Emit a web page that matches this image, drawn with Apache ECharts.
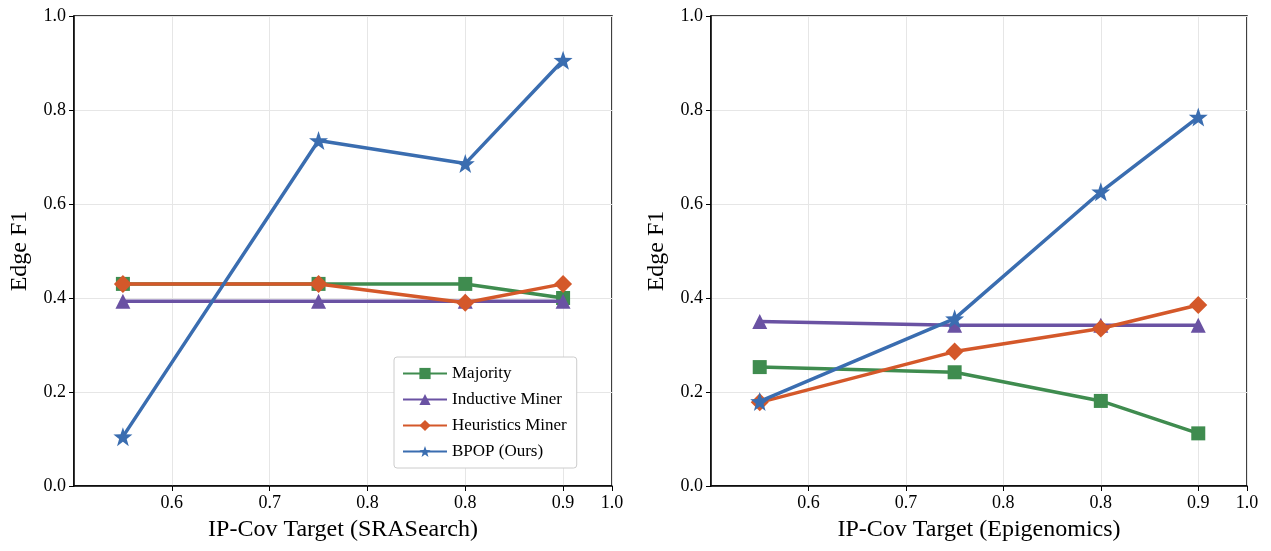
<!DOCTYPE html>
<html><head><meta charset="utf-8">
<script src="https://cdn.jsdelivr.net/npm/echarts@6/dist/echarts.min.js"></script>
<style>html,body{margin:0;background:#fff}#c{width:1271px;height:551px}</style>
</head><body><div id="c"></div>
<script>
var xs = [0.5, 0.7, 0.85, 0.95];
var names = ['Majority', 'Inductive Miner', 'Heuristics Miner', 'BPOP (Ours)'];
var colors = ['#3f8c4f', '#6a52a3', '#d4582a', '#3a6db0'];
var symbols = ['rect', 'triangle', 'diamond', 'path://M0,-10L2.35,-3.24L9.51,-3.09L3.8,1.24L5.88,8.09L0,4L-5.88,8.09L-3.8,1.24L-9.51,-3.09L-2.35,-3.24Z'];
var sizes = [14, 15, 18, 19];
// SRASearch
var left = [
  [0.43, 0.43, 0.43, 0.40],
  [0.393, 0.393, 0.393, 0.393],
  [0.43, 0.43, 0.39, 0.43],
  [0.105, 0.735, 0.686, 0.906]
];
// Epigenomics
var right = [
  [0.253, 0.242, 0.181, 0.112],
  [0.350, 0.342, 0.342, 0.342],
  [0.178, 0.286, 0.335, 0.385],
  [0.180, 0.356, 0.626, 0.785]
];
var font = 'Liberation Serif';
function axes(idx, title) {
  return {
    x: {type: 'value', gridIndex: idx, min: 0.45, max: 1.0, interval: 0.1,
      name: title, nameLocation: 'middle', nameGap: 32,
      nameTextStyle: {fontFamily: font, fontSize: 24, color: '#000'},
      axisLine: {show: true, onZero: false, lineStyle: {color: '#000', width: 1.5}},
      axisTick: {show: true, length: 5, lineStyle: {color: '#000'}},
      axisLabel: {fontFamily: font, fontSize: 18, color: '#000', formatter: function(v){ return v.toFixed(1); }, showMinLabel: false},
      splitLine: {show: true, lineStyle: {color: '#e6e6e6'}}},
    y: {type: 'value', gridIndex: idx, min: 0, max: 1, interval: 0.2,
      name: 'Edge F1', nameLocation: 'middle', nameGap: 42,
      nameTextStyle: {fontFamily: font, fontSize: 24, color: '#000'},
      axisLine: {show: true, lineStyle: {color: '#000', width: 1.5}},
      axisTick: {show: true, length: 5, lineStyle: {color: '#000'}},
      axisLabel: {fontFamily: font, fontSize: 18, color: '#000', formatter: function(v){ return v.toFixed(1); }},
      splitLine: {show: true, lineStyle: {color: '#e6e6e6'}}}
  };
}
var a0 = axes(0, 'IP-Cov Target (SRASearch)');
var a1 = axes(1, 'IP-Cov Target (Epigenomics)');
var series = [];
[left, right].forEach(function(set, g) {
  set.forEach(function(vals, i) {
    series.push({
      name: names[i], type: 'line', xAxisIndex: g, yAxisIndex: g,
      data: xs.map(function(x, k){ return [x, vals[k]]; }),
      symbol: symbols[i], symbolSize: sizes[i],
      lineStyle: {color: colors[i], width: 3.5},
      itemStyle: {color: colors[i]}, z: 2 + i
    });
  });
});
var chart = echarts.init(document.getElementById('c'));
chart.setOption({
  animation: false,
  grid: [
    {left: 74, top: 16, width: 538, height: 470, show: true, borderColor: '#000', borderWidth: 1.5},
    {left: 711, top: 16, width: 536, height: 470, show: true, borderColor: '#000', borderWidth: 1.5}
  ],
  xAxis: [a0.x, a1.x],
  yAxis: [a0.y, a1.y],
  legend: {data: names, orient: 'vertical', left: 394, top: 357, itemGap: 9,
    itemWidth: 44, itemHeight: 14, padding: [8, 10, 8, 8],
    backgroundColor: '#fff', borderColor: '#ccc', borderWidth: 1, borderRadius: 3,
    textStyle: {fontFamily: font, fontSize: 17, color: '#000'}},
  series: series
});
</script></body></html>
